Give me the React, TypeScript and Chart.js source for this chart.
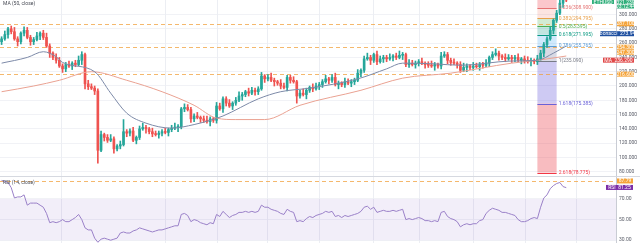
import React, { useEffect, useRef } from "react";
import { Chart, registerables } from "chart.js";

Chart.register(...registerables);

const FONT = "Roboto, 'DejaVu Sans', sans-serif";
const UP = "#26a69a";
const DOWN = "#ef5350";
const SLOTS = 192;

const opens = [
  262,266,272,280,276,266,262,274,278,268,
  262,265,270,274,268,256,246,240,236,228,
  224,230,228,232,230,236,244,203,199,197,
  193,110,132,128,124,126,112,116,118,136,
  134,137,124,128,140,142,140,136,133,132,
  134,136,135,139,141,142,143,168,170,167,
  154,158,156,154,152,150,154,152,172,168,
  182,176,172,176,180,186,188,192,190,194,
  192,196,214,210,212,208,206,204,200,198,
  212,208,206,186,190,188,194,198,196,200,
  202,206,210,208,212,202,204,202,206,204,
  206,208,218,222,238,240,236,244,234,238,
  240,238,240,242,240,243,244,230,232,230,
  232,234,232,230,229,228,230,228,242,244,
  236,233,232,230,222,226,228,226,228,227,
  230,229,232,240,244,246,242,240,238,240,
  238,240,236,238,235,234,236,234,238,246,
  258,266,278,292,302,316,322,
];
const highs = [
  269,277,282,284,282,269,276,283,282,271,
  268,275,276,278,274,259,248,245,240,231,
  233,235,234,236,242,248,246,208,203,200,
  196,137,134,132,132,129,118,123,153,139,
  140,142,130,144,148,145,142,141,137,137,
  139,141,141,145,148,146,170,175,174,170,
  161,163,158,158,158,157,156,177,176,185,
  185,181,178,184,192,191,194,197,198,197,
  199,219,216,216,218,211,208,209,204,215,
  215,213,208,194,196,197,200,203,204,205,
  209,215,212,216,218,207,206,211,210,209,
  211,223,224,242,246,243,246,249,242,243,
  243,245,244,246,249,247,246,237,236,235,
  237,239,234,234,235,233,232,247,248,247,
  239,238,234,234,232,231,230,233,232,233,
  233,237,242,248,252,249,244,245,244,243,
  243,245,240,242,241,239,238,243,250,261,
  269,283,294,306,322,325,324,
];
const lows = [
  258,264,267,273,264,256,259,270,266,257,
  258,263,265,265,254,240,237,232,226,219,
  220,226,223,227,228,230,196,195,195,188,
  92,108,123,121,122,106,109,112,116,129,
  130,122,119,125,138,134,133,129,130,127,
  130,133,130,136,139,136,140,164,165,149,
  150,154,149,149,148,144,149,148,166,163,
  172,170,167,173,178,180,185,186,188,187,
  188,194,205,207,206,200,201,196,196,193,
  204,204,176,183,186,182,191,192,194,195,
  198,204,203,205,200,196,199,198,202,199,
  202,206,213,219,236,230,233,230,232,233,
  234,236,235,237,238,237,227,226,228,225,
  228,230,225,226,226,222,225,224,240,231,
  229,230,225,219,220,220,223,222,225,222,
  225,227,227,237,242,236,237,234,236,233,
  234,234,231,232,232,228,231,230,236,241,
  254,264,273,289,300,310,318,
];
const closes = [
  266,272,280,276,266,262,274,278,268,262,
  265,270,274,268,256,246,240,236,228,224,
  230,228,232,230,236,244,203,199,197,193,
  110,132,128,124,126,112,116,118,136,134,
  137,124,128,140,142,140,136,133,132,134,
  136,135,139,141,142,143,168,170,167,154,
  158,156,154,152,150,154,152,172,168,182,
  176,172,176,180,186,188,192,190,194,192,
  196,214,210,212,208,206,204,200,198,212,
  208,206,186,190,188,194,198,196,200,202,
  206,210,208,212,202,204,202,206,204,206,
  208,218,222,238,240,236,244,234,238,240,
  238,240,242,240,243,244,230,232,230,232,
  234,232,230,229,228,230,228,242,244,236,
  233,232,230,222,226,228,226,228,227,230,
  229,232,240,244,246,242,240,238,240,238,
  240,236,238,235,234,236,234,238,246,258,
  266,278,292,302,316,322,321,
];

const maFastIdx = [0, 8, 13, 17, 19, 29, 34, 39, 45, 53, 60, 65, 69, 80, 87, 96, 111, 120, 125, 135, 143, 159, 167, 172, 176];
const maFastVal = [232, 240, 248, 241, 233, 220, 190, 162, 148, 141, 146, 152, 158, 182, 192, 197, 210, 224, 232, 231, 229, 235, 236, 246, 256];
const maSlowIdx = [0, 10, 18, 28, 39, 50, 60, 67, 73, 82, 93, 112, 125, 140, 159, 167, 176];
const maSlowVal = [192, 200, 208, 220, 208, 192, 173, 155, 153, 153, 173, 194, 211, 218, 232, 236, 242];

const rsiValues = [
  88,87,86,81,71,72,72,74,64,66,
  66,66,64,62,56,47,48,47,48,50,
  48,48,50,52,55,50,42,40,40,32,
  28,31,32,31,30,31,32,37,38,37,
  37,39,40,42,41,40,39,38,39,40,
  40,41,42,43,44,44,55,56,54,48,
  50,49,47,46,45,47,46,55,53,58,
  55,52,54,55,57,57,58,57,58,57,
  58,64,62,62,60,59,58,56,55,60,
  58,57,48,49,48,51,53,52,54,55,
  56,58,57,58,53,54,52,54,53,54,
  55,56,58,62,63,60,62,57,58,59,
  58,58,59,58,59,60,50,51,50,51,
  52,51,49,49,48,49,48,57,58,53,
  51,50,48,43,45,46,45,46,46,49,
  50,56,59,61,60,59,57,57,56,55,
  54,50,48,48,49,51,52,51,62,71,
  74,80,83,85,86,82,81,
];

const priceTicks = [300, 280, 260, 240, 220, 200, 180, 160, 140, 120, 100, 80];
const rsiTicks = [70, 50, 30];
const hLevels = [287.1, 254.3, 216.6];
const rsiHLevel = 87.5;
const fibLevels = [0, 0.236, 0.382, 0.5, 0.618, 0.786, 1, 1.618, 2.618];
const fibLineColors = ["#787b86", "#e57373", "#e8a04a", "#4caf50", "#089981", "#5a9bd5", "#787b86", "#6a62d8", "#f23645"];
const fibFills = ["", "rgba(242,54,69,0.28)", "rgba(242,120,100,0.2)", "rgba(76,175,80,0.25)", "rgba(8,153,129,0.25)", "rgba(100,181,246,0.3)", "rgba(120,123,160,0.28)", "rgba(110,100,220,0.34)", "rgba(236,80,90,0.38)"];
const fibHigh = 331.7;
const fibLow = 235.09;
const fibStartIdx = 167;
const fibEndIdx = 173;
const vGridIdx = [18.6, 51, 67, 82.6, 98.9, 115.7, 130, 147, 163, 179];

function box(ctx: CanvasRenderingContext2D, x: number, yc: number, w: number, h: number, bg: string, text: string, fg: string) {
  ctx.fillStyle = bg;
  ctx.fillRect(x, yc - h / 2, w, h);
  ctx.fillStyle = fg;
  ctx.textAlign = "center";
  ctx.textBaseline = "middle";
  ctx.fillText(text, x + w / 2, yc + 0.3);
}

const mainOverlay = {
  id: "mainOverlay",
  beforeDatasetsDraw(chart: any) {
    const { ctx, chartArea: a, scales } = chart;
    const xs = scales.x;
    const ys = scales.y;
    ctx.save();
    ctx.strokeStyle = "#eceef3";
    ctx.lineWidth = 1;
    vGridIdx.forEach((v) => {
      const px = Math.round(xs.getPixelForValue(v)) + 0.5;
      ctx.beginPath();
      ctx.moveTo(px, a.top);
      ctx.lineTo(px, a.bottom);
      ctx.stroke();
    });
    const x0 = xs.getPixelForValue(fibStartIdx);
    const x1 = xs.getPixelForValue(fibEndIdx);
    const fp = (l: number) => fibHigh - l * (fibHigh - fibLow);
    for (let k = 1; k < fibLevels.length; k++) {
      const yA = ys.getPixelForValue(fp(fibLevels[k - 1]));
      const yB = ys.getPixelForValue(fp(fibLevels[k]));
      ctx.fillStyle = fibFills[k];
      ctx.fillRect(x0, yA, x1 - x0, yB - yA);
    }
    fibLevels.forEach((l, k) => {
      const py = Math.round(ys.getPixelForValue(fp(l))) + 0.5;
      ctx.strokeStyle = fibLineColors[k];
      ctx.beginPath();
      ctx.moveTo(x0, py);
      ctx.lineTo(x1, py);
      ctx.stroke();
    });
    ctx.setLineDash([4, 3]);
    ctx.strokeStyle = "rgba(240,160,60,0.75)";
    hLevels.forEach((p) => {
      const py = Math.round(ys.getPixelForValue(p)) + 0.5;
      ctx.beginPath();
      ctx.moveTo(a.left, py);
      ctx.lineTo(a.right, py);
      ctx.stroke();
    });
    ctx.setLineDash([]);
    ctx.restore();
  },
  afterDraw(chart: any) {
    const { ctx, chartArea: a, scales } = chart;
    const xs = scales.x;
    const ys = scales.y;
    const fp = (l: number) => fibHigh - l * (fibHigh - fibLow);
    ctx.save();
    ctx.font = `5px ${FONT}`;
    const lx = xs.getPixelForValue(fibEndIdx) + 2;
    ctx.textAlign = "left";
    ctx.textBaseline = "middle";
    fibLevels.forEach((l, k) => {
      if (k === 0) return;
      const py = ys.getPixelForValue(fp(l));
      ctx.fillStyle = fibLineColors[k];
      ctx.fillText(`${l}(${fp(l).toFixed(3)})`, lx, py);
    });
    ctx.fillStyle = "#4a4d57";
    ctx.textBaseline = "top";
    ctx.fillText("MA (50, close)", 3, 1);
    ctx.textAlign = "left";
    ctx.textBaseline = "middle";
    ctx.fillStyle = "#5d606b";
    priceTicks.forEach((v) => {
      ctx.fillText(v.toFixed(3), a.right + 3, ys.getPixelForValue(v));
    });
    hLevels.forEach((p) => box(ctx, a.right + 1, ys.getPixelForValue(p), 17, 5, "#f5a43a", p.toFixed(3), "#ffffff"));
    box(ctx, a.right + 1, ys.getPixelForValue(247.3), 17, 5, "#f5a43a", "247.300", "#ffffff");
    box(ctx, a.right - 16, ys.getPixelForValue(273.2), 34, 5, "#1e4fa0", "Fibonacci  273.946", "#ffffff");
    box(ctx, a.right - 13, ys.getPixelForValue(236.2), 31, 5, "#e04848", "MA  236.290", "#ffffff");
    box(ctx, a.right - 24, 2, 22, 4, "#2fae7a", "ETHUSD", "#ffffff");
    box(ctx, a.right + 1, 2, 17, 4, "#2fae7a", "321.239", "#ffffff");
    box(ctx, a.right + 1, 6.5, 17, 4, "#2fae7a", "03:12:44", "#ffffff");
    ctx.restore();
  },
};

const rsiOverlay = {
  id: "rsiOverlay",
  beforeDatasetsDraw(chart: any) {
    const { ctx, chartArea: a, scales } = chart;
    const xs = scales.x;
    const ys = scales.y;
    ctx.save();
    ctx.strokeStyle = "#eceef3";
    ctx.lineWidth = 1;
    vGridIdx.forEach((v) => {
      const px = Math.round(xs.getPixelForValue(v)) + 0.5;
      ctx.beginPath();
      ctx.moveTo(px, a.top);
      ctx.lineTo(px, a.bottom);
      ctx.stroke();
    });
    const y70 = ys.getPixelForValue(70);
    const y30 = ys.getPixelForValue(30);
    ctx.fillStyle = "rgba(126,87,194,0.1)";
    ctx.fillRect(a.left, y70, a.right - a.left, y30 - y70);
    ctx.setLineDash([4, 3]);
    ctx.strokeStyle = "rgba(240,160,60,0.75)";
    const py = Math.round(ys.getPixelForValue(rsiHLevel)) + 0.5;
    ctx.beginPath();
    ctx.moveTo(a.left, py);
    ctx.lineTo(a.right, py);
    ctx.stroke();
    ctx.setLineDash([]);
    ctx.strokeStyle = "#d6d9e0";
    ctx.beginPath();
    ctx.moveTo(0, 0.5);
    ctx.lineTo(chart.width, 0.5);
    ctx.stroke();
    ctx.restore();
  },
  afterDraw(chart: any) {
    const { ctx, chartArea: a, scales } = chart;
    const ys = scales.y;
    ctx.save();
    ctx.font = `5px ${FONT}`;
    ctx.fillStyle = "#4a4d57";
    ctx.textAlign = "left";
    ctx.textBaseline = "middle";
    ctx.fillText("RSI (14, close)", 3, ys.getPixelForValue(86));
    ctx.fillStyle = "#5d606b";
    rsiTicks.forEach((v) => ctx.fillText(v.toFixed(2), a.right + 3, ys.getPixelForValue(v)));
    box(ctx, a.right + 1, ys.getPixelForValue(rsiHLevel), 16, 5, "#f5a43a", "87.79", "#ffffff");
    box(ctx, a.right - 10, ys.getPixelForValue(81.2), 27, 5, "#7b2ea8", "RSI  81.25", "#ffffff");
    ctx.restore();
  },
};

export default function App() {
  const mainRef = useRef<HTMLCanvasElement>(null);
  const rsiRef = useRef<HTMLCanvasElement>(null);

  useEffect(() => {
    const labels = Array.from({ length: SLOTS }, (_, i) => String(i));
    const n = closes.length;
    const colors = opens.map((o, i) => (closes[i] >= o ? UP : DOWN));
    const sparse = (idx: number[], val: number[]) => {
      const arr: (number | null)[] = new Array(n).fill(null);
      idx.forEach((k, j) => (arr[k] = val[j]));
      return arr;
    };
    const main = new Chart(mainRef.current!, {
      type: "bar",
      data: {
        labels,
        datasets: [
          { type: "bar", data: lows.map((l, i) => [l, highs[i]]) as any, backgroundColor: colors, barThickness: 1, grouped: false, order: 3 } as any,
          { type: "bar", data: opens.map((o, i) => [o, closes[i]]) as any, backgroundColor: colors, barThickness: 2, minBarLength: 1, grouped: false, order: 2 } as any,
          { type: "line", data: sparse(maFastIdx, maFastVal), borderColor: "#7d8aa8", borderWidth: 1, pointRadius: 0, spanGaps: true, cubicInterpolationMode: "monotone", order: 0 } as any,
          { type: "line", data: sparse(maSlowIdx, maSlowVal), borderColor: "#eaa292", borderWidth: 1, pointRadius: 0, spanGaps: true, cubicInterpolationMode: "monotone", order: 1 } as any,
        ],
      },
      options: {
        responsive: false,
        animation: false,
        events: [],
        layout: { padding: { left: 0, right: 24, top: 0, bottom: 0 } },
        plugins: { legend: { display: false }, tooltip: { enabled: false } },
        scales: {
          x: { display: false, offset: true },
          y: {
            position: "right",
            min: 74,
            max: 320.4,
            afterBuildTicks: (s: any) => { s.ticks = priceTicks.map((v) => ({ value: v })); },
            ticks: { display: false },
            grid: { color: "#f1f2f6", drawTicks: false },
            border: { display: true, color: "#c9ccd4" },
          },
        },
      },
      plugins: [mainOverlay],
    });
    const rsi = new Chart(rsiRef.current!, {
      type: "line",
      data: {
        labels,
        datasets: [
          { data: rsiValues, borderColor: "#9a80c8", borderWidth: 1, pointRadius: 0, tension: 0 },
        ],
      },
      options: {
        responsive: false,
        animation: false,
        events: [],
        layout: { padding: { left: 0, right: 24, top: 0, bottom: 0 } },
        plugins: { legend: { display: false }, tooltip: { enabled: false } },
        scales: {
          x: { display: false, offset: true },
          y: {
            position: "right",
            min: 27.3,
            max: 92.3,
            afterBuildTicks: (s: any) => { s.ticks = rsiTicks.map((v) => ({ value: v })); },
            ticks: { display: false },
            grid: { color: "#f1f2f6", drawTicks: false },
            border: { display: true, color: "#c9ccd4" },
          },
        },
      },
      plugins: [rsiOverlay],
    });
    return () => {
      main.destroy();
      rsi.destroy();
    };
  }, []);

  return (
    <div style={{ position: "absolute", left: 0, top: 0, width: 640, height: 243, background: "#ffffff" }}>
      <canvas ref={mainRef} width={640} height={176} style={{ display: "block" }} />
      <canvas ref={rsiRef} width={640} height={67} style={{ display: "block" }} />
    </div>
  );
}
